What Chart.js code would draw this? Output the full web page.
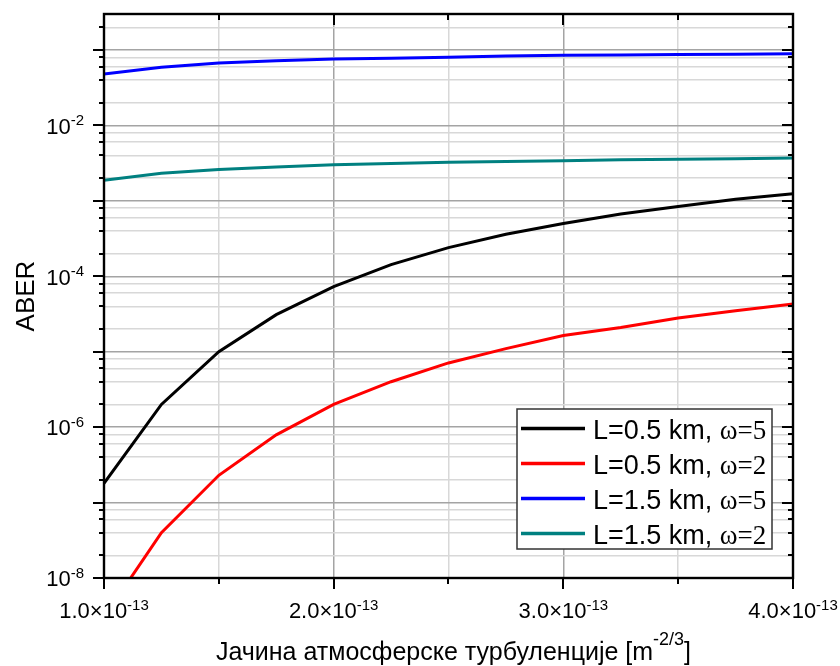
<!DOCTYPE html>
<html lang="sr">
<head>
  <meta charset="utf-8">
  <title>ABER vs turbulence strength</title>
  <script src="https://cdn.jsdelivr.net/npm/chart.js"></script>
  <style>
    html, body { margin: 0; padding: 0; background: #fff; }
    #wrap { width: 840px; height: 666px; }
  </style>
</head>
<body>
<div id="wrap"><canvas id="aberChart" width="840" height="666"></canvas></div>

<script>
// turbulence strength Cn2 [m^-2/3]
const cn2 = [1.0e-13, 1.25e-13, 1.5e-13, 1.75e-13, 2.0e-13, 2.25e-13, 2.5e-13,
             2.75e-13, 3.0e-13, 3.25e-13, 3.5e-13, 3.75e-13, 4.0e-13];

// ABER
const aberL05w5 = [1.8e-7, 2.0e-6, 1.0e-5, 3.1e-5, 7.3e-5, 1.43e-4, 2.4e-4,
                   3.6e-4, 5.0e-4, 6.7e-4, 8.4e-4, 1.05e-3, 1.24e-3];
const aberL05w2 = [3.0e-9, 4.0e-8, 2.3e-7, 7.9e-7, 2.0e-6, 4.0e-6, 7.1e-6,
                   1.1e-5, 1.64e-5, 2.1e-5, 2.8e-5, 3.5e-5, 4.3e-5];
const aberL15w5 = [0.048, 0.059, 0.067, 0.072, 0.076, 0.078, 0.080,
                   0.083, 0.085, 0.086, 0.087, 0.088, 0.089];
const aberL15w2 = [1.87e-3, 2.32e-3, 2.6e-3, 2.8e-3, 3.0e-3, 3.13e-3, 3.24e-3,
                   3.33e-3, 3.4e-3, 3.5e-3, 3.55e-3, 3.62e-3, 3.7e-3];

const seriesNames = ['L=0.5 km, ω=5', 'L=0.5 km, ω=2', 'L=1.5 km, ω=5', 'L=1.5 km, ω=2'];
const seriesColors = ['#000000', '#ff0000', '#0000ff', '#008080'];

// axis ticks
const xMin = 1.0e-13, xMax = 4.0e-13;
const xTickValues = [1.0e-13, 1.5e-13, 2.0e-13, 2.5e-13, 3.0e-13, 3.5e-13, 4.0e-13];
const xMajorValues = [1.0e-13, 2.0e-13, 3.0e-13, 4.0e-13];
const xMajorLabels = ['1.0×10', '2.0×10', '3.0×10', '4.0×10'];
const xLabelExp = '-13';

const yMin = 1e-8, yMax = 0.3;
const yDecades = [1e-8, 1e-7, 1e-6, 1e-5, 1e-4, 1e-3, 1e-2, 1e-1];
const yMinorSteps = [2, 4, 6, 8];
const yLabelled = [1e-8, 1e-6, 1e-4, 1e-2];
const yLabelExps = ['-8', '-6', '-4', '-2'];

const SANS = '"Liberation Sans", Arial, sans-serif';
const SERIF = '"Liberation Serif", "Times New Roman", serif';

function sameVal(a, b) { return Math.abs(a - b) <= Math.abs(b) * 1e-6; }

// text with a superscript tail, returns right edge
function drawSup(ctx, base, sup, x, baseline, align, fs, ss, rise) {
  ctx.font = fs + 'px ' + SANS;
  const wb = ctx.measureText(base).width;
  ctx.font = ss + 'px ' + SANS;
  const ws = ctx.measureText(sup).width;
  const total = wb + ws;
  let x0 = x;
  if (align === 'right') x0 = x - total;
  if (align === 'center') x0 = x - total / 2;
  ctx.textAlign = 'left';
  ctx.textBaseline = 'alphabetic';
  ctx.font = fs + 'px ' + SANS;
  ctx.fillText(base, x0, baseline);
  ctx.font = ss + 'px ' + SANS;
  ctx.fillText(sup, x0 + wb, baseline - rise);
  return x0 + total;
}

const originFrame = {
  id: 'originFrame',
  afterDraw(chart) {
    const { ctx, chartArea: a, scales: { x, y } } = chart;
    ctx.save();

    // tick marks: out on left/bottom, in on top/right
    ctx.strokeStyle = '#000';
    ctx.lineWidth = 2;
    ctx.beginPath();
    x.ticks.forEach(t => {
      const px = Math.round(x.getPixelForValue(t.value));
      const len = t.major ? 11 : 6;
      ctx.moveTo(px, a.bottom); ctx.lineTo(px, a.bottom + len);
      ctx.moveTo(px, a.top); ctx.lineTo(px, a.top + len);
    });
    y.ticks.forEach(t => {
      const py = Math.round(y.getPixelForValue(t.value));
      const len = t.major ? 11 : 5;
      ctx.moveTo(a.left, py); ctx.lineTo(a.left - len, py);
      ctx.moveTo(a.right, py); ctx.lineTo(a.right - len, py);
    });
    ctx.stroke();

    ctx.lineWidth = 2.4;
    ctx.strokeRect(a.left, a.top, a.right - a.left, a.bottom - a.top);

    // tick labels
    ctx.fillStyle = '#000';
    xMajorValues.forEach((v, i) => {
      const px = x.getPixelForValue(v);
      drawSup(ctx, xMajorLabels[i], xLabelExp, px, a.bottom + 40, 'center', 22, 15, 8);
    });
    yLabelled.forEach((v, i) => {
      const py = y.getPixelForValue(v);
      drawSup(ctx, '10', yLabelExps[i], a.left - 20, py + 8.3, 'right', 22, 15, 8.4);
    });

    // axis titles
    ctx.font = '25px ' + SANS;
    const t1 = 'Јачина атмосферске турбуленције [m';
    const w1 = ctx.measureText(t1).width;
    ctx.font = '18px ' + SANS;
    const w2 = ctx.measureText('-2/3').width;
    ctx.font = '25px ' + SANS;
    const w3 = ctx.measureText(']').width;
    const cx = (a.left + a.right) / 2 + 5;
    let tx = cx - (w1 + w2 + w3) / 2;
    ctx.textAlign = 'left';
    ctx.fillText(t1, tx, 660);
    ctx.font = '18px ' + SANS;
    ctx.fillText('-2/3', tx + w1, 645);
    ctx.font = '25px ' + SANS;
    ctx.fillText(']', tx + w1 + w2, 660);

    ctx.save();
    ctx.translate(34, (a.top + a.bottom) / 2);
    ctx.rotate(-Math.PI / 2);
    ctx.textAlign = 'center';
    ctx.font = '26px ' + SANS;
    ctx.fillText('ABER', 0, 0);
    ctx.restore();

    // legend
    const lx = 517, ly = 409, lw = 255, lh = 140;
    ctx.fillStyle = '#fff';
    ctx.fillRect(lx, ly, lw, lh);
    ctx.strokeStyle = '#333';
    ctx.lineWidth = 1.5;
    ctx.strokeRect(lx, ly, lw, lh);
    seriesNames.forEach((name, i) => {
      const rowY = ly + 19.5 + i * 35;
      ctx.strokeStyle = seriesColors[i];
      ctx.lineWidth = 3.5;
      ctx.beginPath();
      ctx.moveTo(lx + 4, rowY); ctx.lineTo(lx + 68, rowY);
      ctx.stroke();
      const cut = name.indexOf('ω');
      const head = name.slice(0, cut);
      const tail = name.slice(cut);
      ctx.fillStyle = '#000';
      ctx.textAlign = 'left';
      ctx.font = '27px ' + SANS;
      ctx.fillText(head, lx + 76, rowY + 10);
      const hw = ctx.measureText(head).width;
      ctx.font = '27px ' + SERIF;
      ctx.fillText(tail, lx + 76 + hw, rowY + 10);
    });

    ctx.restore();
  }
};

const seriesData = [aberL05w5, aberL05w2, aberL15w5, aberL15w2];

new Chart(document.getElementById('aberChart'), {
  type: 'line',
  data: {
    datasets: seriesData.map((arr, i) => ({
      label: seriesNames[i],
      data: cn2.map((xv, k) => ({ x: xv, y: arr[k] })),
      borderColor: seriesColors[i],
      borderWidth: 3,
      pointRadius: 0,
      tension: 0,
      fill: false,
      clip: 0
    }))
  },
  options: {
    responsive: false,
    animation: false,
    events: [],
    layout: { padding: { left: 104, top: 14, right: 47, bottom: 88 } },
    plugins: { legend: { display: false }, tooltip: { enabled: false } },
    scales: {
      x: {
        type: 'linear',
        min: xMin,
        max: xMax,
        afterBuildTicks: scale => {
          scale.ticks = xTickValues.map(v => ({ value: v, major: xMajorValues.some(m => sameVal(m, v)) }));
        },
        ticks: { display: false },
        border: { display: false },
        grid: {
          drawTicks: false,
          lineWidth: 1.5,
          color: c => (c.tick && c.tick.major) ? '#a4a4a4' : '#d8d8d8'
        }
      },
      y: {
        type: 'logarithmic',
        min: yMin,
        max: yMax,
        afterBuildTicks: scale => {
          const t = [];
          yDecades.forEach(d => {
            t.push({ value: d, major: true });
            yMinorSteps.forEach(m => {
              if (d * m <= yMax) t.push({ value: d * m, major: false });
            });
          });
          scale.ticks = t;
        },
        ticks: { display: false },
        border: { display: false },
        grid: {
          drawTicks: false,
          lineWidth: 1.5,
          color: c => (c.tick && c.tick.major) ? '#a4a4a4' : '#d8d8d8'
        }
      }
    }
  },
  plugins: [originFrame]
});
</script>
</body>
</html>
